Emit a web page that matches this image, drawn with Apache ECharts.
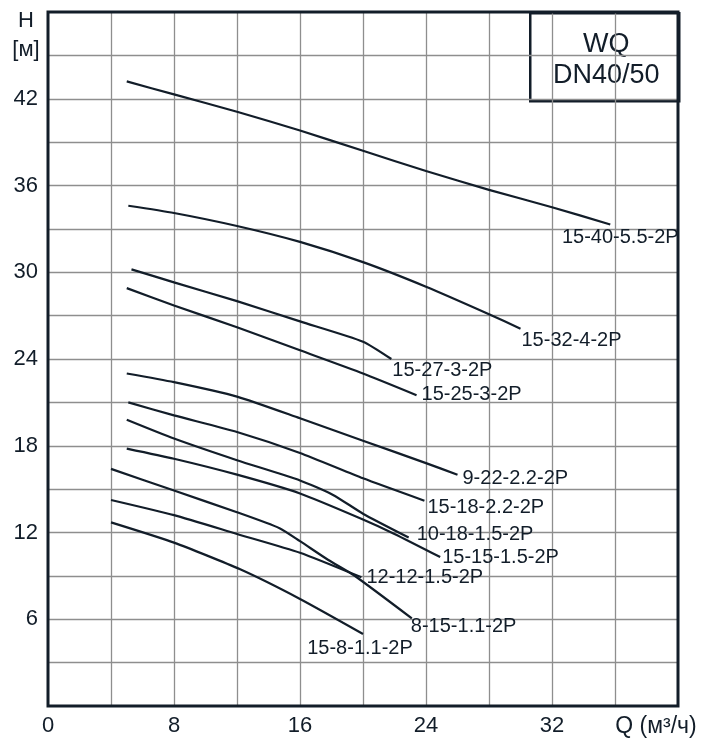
<!DOCTYPE html>
<html>
<head>
<meta charset="utf-8">
<script src="https://cdn.jsdelivr.net/npm/echarts@6/dist/echarts.min.js"></script>
<style>
html,body{margin:0;padding:0;background:#fff;}
#chart{width:704px;height:740px;}
</style>
</head>
<body>
<div id="chart"></div>
<script>
// Axis ticks
const xTicks = [0, 8, 16, 24, 32];
const yTicks = [6, 12, 18, 24, 30, 36, 42];

// Series names
const names = ['15-40-5.5-2P', '15-32-4-2P', '15-27-3-2P', '15-25-3-2P', '9-22-2.2-2P',
  '15-18-2.2-2P', '10-18-1.5-2P', '15-15-1.5-2P', '12-12-1.5-2P', '8-15-1.1-2P', '15-8-1.1-2P'];

// Flow Q (m3/h) and head H (m) for each curve
const q_15_40 = [5.0, 8, 12, 16, 20, 24, 28, 32, 35.7];
const h_15_40 = [43.2, 42.3, 41.1, 39.8, 38.4, 37.0, 35.7, 34.5, 33.3];
const q_15_32 = [5.1, 8, 12, 16, 20, 24, 28, 30.0];
const h_15_32 = [34.6, 34.1, 33.2, 32.1, 30.7, 29.0, 27.1, 26.1];
const q_15_27 = [5.3, 8, 12, 16, 20, 21.8];
const h_15_27 = [30.2, 29.3, 28.0, 26.6, 25.2, 24.0];
const q_15_25 = [5.0, 8, 12, 16, 20, 23.4];
const h_15_25 = [28.9, 27.7, 26.2, 24.6, 23.0, 21.5];
const q_9_22 = [5.0, 8, 12, 16, 20, 24, 26.0];
const h_9_22 = [23.0, 22.4, 21.4, 19.9, 18.35, 16.8, 16.0];
const q_15_18 = [5.1, 8, 12, 16, 20, 23.9];
const h_15_18 = [21.0, 20.1, 18.95, 17.5, 15.75, 14.2];
const q_10_18 = [5.0, 8, 12, 16, 18.1, 20, 22.9];
const h_10_18 = [19.8, 18.5, 17.0, 15.6, 14.6, 13.3, 11.65];
const q_15_15 = [5.0, 8, 12, 16, 20, 22, 24.9];
const h_15_15 = [17.8, 17.1, 16.0, 14.7, 12.9, 11.9, 10.3];
const q_12_12 = [4.0, 8, 12, 16, 19.9];
const h_12_12 = [14.25, 13.2, 11.9, 10.6, 8.9];
const q_8_15 = [4.0, 8, 12, 14.7, 16, 17.8, 19.4, 23.1];
const h_8_15 = [16.4, 14.9, 13.4, 12.3, 11.4, 10.1, 9.06, 6.06];
const q_15_8 = [4.0, 8, 12.2, 16, 20.0];
const h_15_8 = [12.7, 11.3, 9.45, 7.4, 4.98];

const qs = [q_15_40, q_15_32, q_15_27, q_15_25, q_9_22, q_15_18, q_10_18, q_15_15, q_12_12, q_8_15, q_15_8];
const hs = [h_15_40, h_15_32, h_15_27, h_15_25, h_9_22, h_15_18, h_10_18, h_15_15, h_12_12, h_8_15, h_15_8];

// Label placement (style only): [align, dx, dy]
const labelPlace = [
  ['center', 10, 13], ['left', 1, 12], ['left', 1, 11], ['left', 5, -1], ['left', 5, 4],
  ['left', 3, 7], ['left', 8, -3], ['left', 2, 0], ['left', 5, 0], ['left', -1, 8], ['center', -3, 14]
];

const INK = '#121d29';
const FONT = "'Liberation Sans', Arial, sans-serif";

const series = names.map((name, i) => {
  const data = qs[i].map((q, j) => [q, hs[i][j]]);
  const last = data.length - 1;
  const lp = labelPlace[i];
  return {
    name: name,
    type: 'line',
    data: data,
    smooth: 0.2,
    symbol: 'circle',
    symbolSize: 0,
    showSymbol: true,
    silent: true,
    lineStyle: { color: INK, width: 2.2 },
    itemStyle: { color: INK },
    label: {
      show: true,
      position: 'inside',
      align: lp[0],
      verticalAlign: 'middle',
      offset: [lp[1], lp[2]],
      color: INK,
      fontFamily: FONT,
      fontSize: 20,
      formatter: p => (p.dataIndex === last ? name : '')
    },
    emphasis: { disabled: true }
  };
});

const chart = echarts.init(document.getElementById('chart'), null, { renderer: 'canvas' });
chart.setOption({
  animation: false,
  backgroundColor: '#fff',
  grid: {
    show: true, z: 10,
    left: 48, right: 26, top: 12, bottom: 34,
    borderColor: INK, borderWidth: 3, backgroundColor: 'transparent'
  },
  xAxis: {
    type: 'value', min: 0, max: 40, interval: 4,
    axisLine: { show: false }, axisTick: { show: false },
    splitLine: { show: true, showMinLine: false, showMaxLine: false, lineStyle: { color: '#8e8e8e', width: 1.3 } },
    axisLabel: {
      color: INK, fontFamily: FONT, fontSize: 22, margin: 9,
      formatter: v => (xTicks.indexOf(v) >= 0 ? String(v) : '')
    },
    name: 'Q (м³/ч)', nameLocation: 'end', nameGap: -22,
    nameTextStyle: { color: INK, fontFamily: FONT, fontSize: 23, align: 'center', verticalAlign: 'top', padding: [9, 0, 0, 0] }
  },
  yAxis: {
    type: 'value', min: 0, max: 48, interval: 3,
    axisLine: { show: false }, axisTick: { show: false },
    splitLine: { show: true, showMinLine: false, showMaxLine: false, lineStyle: { color: '#8e8e8e', width: 1.3 } },
    axisLabel: {
      color: INK, fontFamily: FONT, fontSize: 22, margin: 10,
      formatter: v => (yTicks.indexOf(v) >= 0 ? String(v) : '')
    },
    name: 'H\n[м]', nameLocation: 'end', nameGap: -23,
    nameTextStyle: { color: INK, fontFamily: FONT, fontSize: 22, lineHeight: 29, align: 'center', verticalAlign: 'middle', padding: [0, 44, 0, 0] }
  },
  graphic: [{
    type: 'group', left: 529, top: 12, z: 20,
    children: [
      { type: 'rect', shape: { x: 0, y: 0, width: 149, height: 88 }, style: { fill: '#fff', stroke: INK, lineWidth: 2.5 } },
      { type: 'text', x: 76, y: 31, style: { text: 'WQ', fill: INK, font: "27px 'Liberation Sans', Arial, sans-serif", align: 'center', verticalAlign: 'middle' } },
      { type: 'text', x: 76, y: 62, style: { text: 'DN40/50', fill: INK, font: "27px 'Liberation Sans', Arial, sans-serif", align: 'center', verticalAlign: 'middle' } }
    ]
  }],
  series: series
});
</script>
</body>
</html>
